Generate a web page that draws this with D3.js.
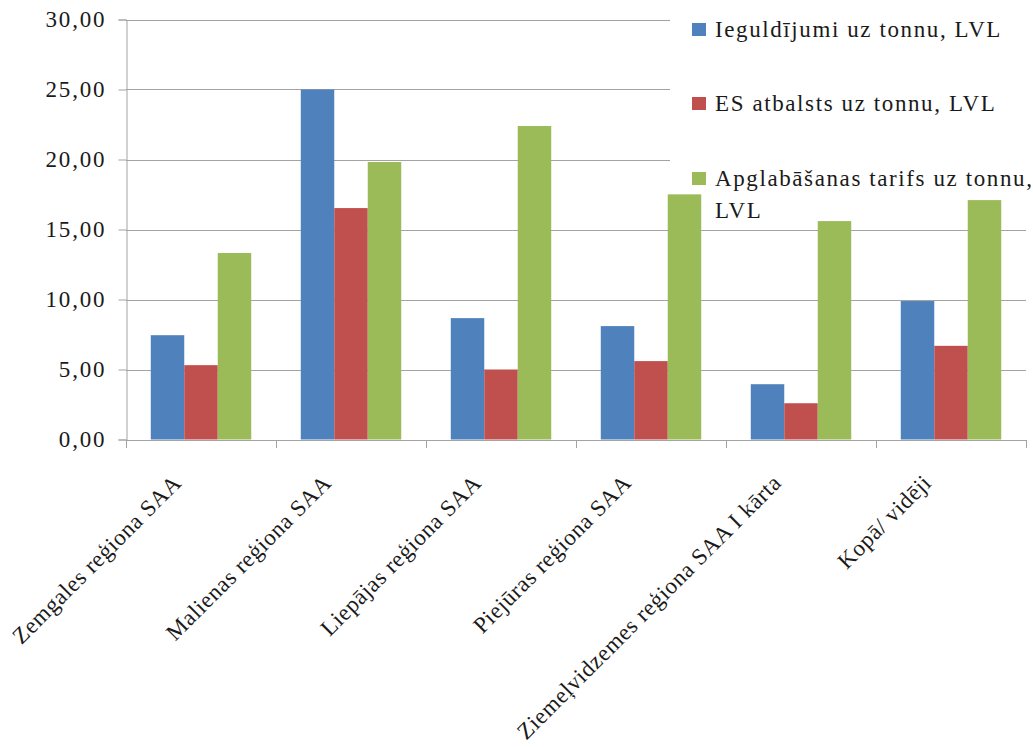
<!DOCTYPE html>
<html>
<head>
<meta charset="utf-8">
<script src="https://cdn.jsdelivr.net/npm/d3@7"></script>
<style>
  html, body { margin: 0; padding: 0; background: #fff; }
  svg text { font-family: "Liberation Serif", "DejaVu Serif", "Times New Roman", serif !important; }
</style>
</head>
<body>
<svg id="chart" width="1033" height="747"></svg>
<script>
// Regions (categories)
const categories = [
  "Zemgales reģiona SAA",
  "Malienas reģiona SAA",
  "Liepājas reģiona SAA",
  "Piejūras reģiona SAA",
  "Ziemeļvidzemes reģiona SAA I kārta",
  "Kopā/ vidēji"
];

// Series names
const seriesNames = [
  "Ieguldījumi uz tonnu, LVL",
  "ES atbalsts uz tonnu, LVL",
  "Apglabāšanas tarifs uz tonnu, LVL"
];

// Series values, LVL per tonne
const investment = [7.45, 25.0, 8.67, 8.10, 3.95, 9.89];
const euSupport  = [5.31, 16.53, 5.00, 5.60, 2.59, 6.69];
const landfillTariff = [13.32, 19.82, 22.39, 17.51, 15.60, 17.10];

// Y axis ticks
const yTicks = [0, 5, 10, 15, 20, 25, 30];

const seriesColors = ["#4F81BD", "#C0504D", "#9BBB59"];
const seriesValues = [investment, euSupport, landfillTariff];

const svg = d3.select("#chart");
const plot = { left: 126, right: 1026, top: 19.5, bottom: 439.5 };

const x = d3.scaleBand()
  .domain(categories)
  .range([plot.left, plot.right])
  .paddingInner(0)
  .paddingOuter(0);

const x1 = d3.scaleBand()
  .domain(d3.range(seriesNames.length))
  .range([0, x.bandwidth()])
  .paddingOuter(0.74)
  .paddingInner(0);

const y = d3.scaleLinear().domain([0, 30]).range([plot.bottom, plot.top]);

const fmt = v => d3.format(".2f")(v).replace(".", ",");

const gridColor = "#a3a3a3";
const textColor = "#1a1a1a";
const fontSize = 23;

// Horizontal gridlines
svg.append("g")
  .selectAll("line")
  .data(yTicks.filter(t => t > 0))
  .join("line")
  .attr("x1", plot.left).attr("x2", plot.right)
  .attr("y1", d => Math.round(y(d)) + 0.5).attr("y2", d => Math.round(y(d)) + 0.5)
  .attr("stroke", gridColor).attr("stroke-width", 1);

// Legend background covers the gridlines behind it
const legendBox = { x: 670, y: 0, w: 1033 - 670, h: 222 };
svg.append("rect")
  .attr("x", legendBox.x).attr("y", legendBox.y)
  .attr("width", legendBox.w).attr("height", legendBox.h)
  .attr("fill", "#fff");

// Bars
const groups = svg.append("g")
  .selectAll("g")
  .data(categories)
  .join("g")
  .attr("transform", d => `translate(${x(d)},0)`);

groups.selectAll("rect")
  .data((d, i) => seriesValues.map((vals, s) => ({ s, v: vals[i] })))
  .join("rect")
  .attr("x", d => x1(d.s))
  .attr("width", x1.bandwidth())
  .attr("y", d => y(d.v))
  .attr("height", d => y(0) - y(d.v))
  .attr("fill", d => seriesColors[d.s]);

// Y axis
const yAxis = d3.axisLeft(y)
  .tickValues(yTicks)
  .tickSize(8)
  .tickPadding(14)
  .tickFormat(fmt);

const yG = svg.append("g")
  .attr("transform", `translate(${plot.left + 0.5},0)`)
  .call(yAxis)
  .attr("font-family", null)
  .attr("font-size", null);
yG.select(".domain").attr("stroke", gridColor);
yG.selectAll(".tick line").attr("stroke", gridColor);
yG.selectAll(".tick text")
  .attr("fill", textColor)
  .attr("font-size", fontSize)
  .attr("letter-spacing", 1.8)
  .attr("dx", 1.8);

// X axis: ticks at category boundaries
const boundaries = categories.map(c => x(c)).concat([plot.right]);
const xG = svg.append("g");
xG.append("line")
  .attr("x1", plot.left).attr("x2", plot.right)
  .attr("y1", Math.round(y(0)) + 0.5).attr("y2", Math.round(y(0)) + 0.5)
  .attr("stroke", gridColor);
xG.selectAll("line.tick")
  .data(boundaries)
  .join("line")
  .attr("class", "tick")
  .attr("x1", d => Math.round(d) + 0.5).attr("x2", d => Math.round(d) + 0.5)
  .attr("y1", Math.round(y(0))).attr("y2", Math.round(y(0)) + 8)
  .attr("stroke", gridColor);

// Rotated category labels
xG.selectAll("text")
  .data(categories)
  .join("text")
  .attr("transform", d => `translate(${x(d) + x.bandwidth() / 2 - 24},${y(0) + 39}) rotate(-45)`)
  .attr("text-anchor", "end")
  .attr("dy", "0.35em")
  .attr("font-size", fontSize)
  .attr("letter-spacing", 0.6)
  .attr("fill", textColor)
  .text(d => d);

// Legend
const legend = svg.append("g");
const legendRows = [37, 111, 186];
const legendLines = [[seriesNames[0]], [seriesNames[1]], ["Apglabāšanas tarifs uz tonnu,", "LVL"]];
seriesNames.forEach((name, i) => {
  legend.append("rect")
    .attr("x", 692).attr("y", legendRows[i] - 14)
    .attr("width", 14).attr("height", 13)
    .attr("fill", seriesColors[i]);
  const t = legend.append("text")
    .attr("x", 715).attr("y", legendRows[i])
    .attr("font-size", fontSize)
    .attr("letter-spacing", 1.6)
    .attr("fill", textColor);
  legendLines[i].forEach((line, j) => {
    t.append("tspan").attr("x", 715).attr("dy", j === 0 ? 0 : 32).text(line);
  });
});
</script>
</body>
</html>
